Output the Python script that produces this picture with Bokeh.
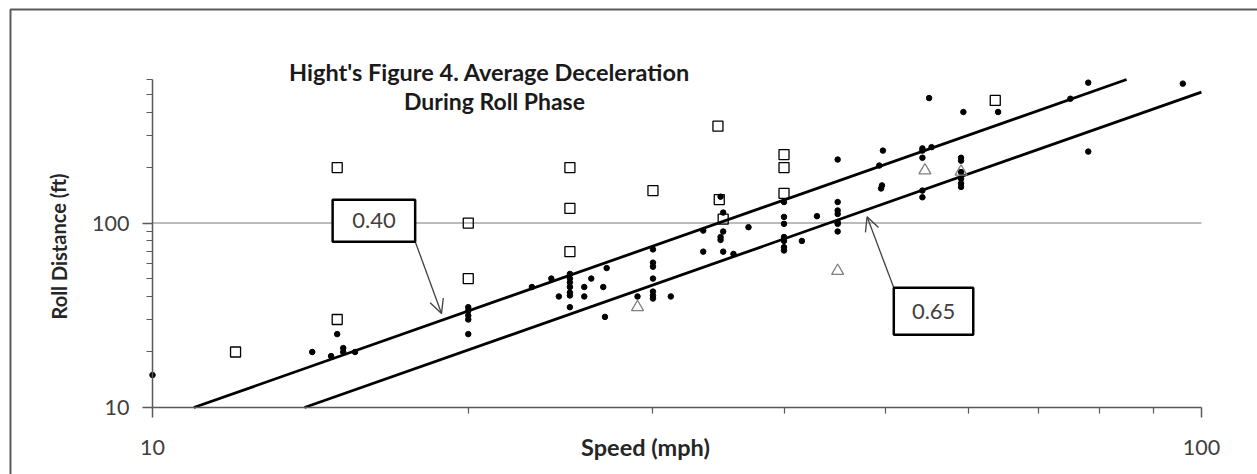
from bokeh.plotting import figure
from bokeh.models import FixedTicker, Label, BoxAnnotation, PolyAnnotation, Arrow, OpenHead, Range1d
from bokeh.embed import file_html
from bokeh.resources import INLINE

# ---- data ----
dot_speed = [10, 14.2, 14.8, 15, 15.2, 15.2, 15.6,
             20, 20, 20, 20, 20,
             23, 24, 24.4,
             25, 25, 25, 25, 25, 25, 25,
             25.8, 25.8, 26.2, 26.9, 27, 27.1, 29,
             30, 30, 30, 30, 30, 30, 30,
             31.2, 33.5, 33.5,
             34.8, 35, 35, 34.8, 34.8, 35, 35.8, 37,
             40, 40, 40, 40, 40, 40, 40,
             41.6, 43,
             45, 45, 45, 45, 45, 45, 45,
             49.3, 49.7, 49.6, 49.5,
             54.2, 54.2, 54.2, 54.2, 54.2, 55.3, 55,
             59, 59, 59, 59, 59, 59,
             59.3, 64, 75, 78, 78, 96]
dot_dist = [15, 20, 19, 25, 21, 20, 20,
            35, 33.5, 31.5, 30, 25,
            45, 50, 40,
            53, 50, 47.6, 45, 42, 40.5, 35,
            45, 40, 50, 45, 31, 57, 40,
            72, 61, 58, 50, 42.5, 40.5, 39,
            40, 91, 70,
            139, 114, 90, 84, 81, 70, 68, 95,
            130, 108, 99, 84, 80, 74, 71,
            80, 109,
            221, 130, 117, 112, 101, 99, 90,
            205, 247, 160, 154,
            254, 247, 226, 150, 138, 258, 476,
            226, 218, 189, 174, 164, 157,
            400, 400, 472, 577, 244, 570]

sq_speed = [12, 15, 15, 20, 20, 25, 25, 25, 30, 34.6, 34.7, 35, 40, 40, 40, 63.6]
sq_dist = [20, 200, 30, 100, 50, 200, 120, 70, 150, 335, 134, 105, 235, 200, 145, 462]

tri_speed = [29, 45, 54.5, 59]
tri_dist = [35, 55, 193, 190]

line40_speed = [10.95, 84.85]
line40_dist = [10, 600]
line65_speed = [13.96, 100]
line65_dist = [10, 513]

x_bounds = [10, 100]
y_bounds = [10, 600]
x_major = [10, 100]
x_minor = [20, 30, 40, 50, 60, 70, 80, 90]
y_major = [10, 100]
y_minor = [20, 30, 40, 50, 60, 70, 80, 90, 200, 300, 400, 500, 600]
grid_y = [100]
tick_labels = {10: "10", 100: "100"}

title_lines = ["Hight's Figure 4. Average Deceleration", "During Roll Phase"]
x_title = "Speed (mph)"
y_title = "Roll Distance (ft)"
callouts = ["0.40", "0.65"]

FONT = "Lato"
AXIS_COL = "#595959"
TXT_COL = "#404040"
W, H = 1257, 474

# the frame covers the whole canvas; the ranges are chosen so that the
# 10..100 / 10..600 plot box sits at the reference's position
p = figure(width=W, height=H, x_axis_type="log", y_axis_type="log",
           x_range=Range1d(7.163, 113.1), y_range=Range1d(4.334, 1609),
           output_backend="svg", toolbar_location=None,
           min_border=0)
p.outline_line_color = None
p.background_fill_color = "white"
p.border_fill_color = "white"

p.xaxis.fixed_location = y_bounds[0]
p.yaxis.fixed_location = x_bounds[0]
p.xaxis.bounds = tuple(x_bounds)
p.yaxis.bounds = tuple(y_bounds)

for ax, maj, mnr in ((p.xaxis[0], x_major, x_minor), (p.yaxis[0], y_major, y_minor)):
    ax.ticker = FixedTicker(ticks=maj, minor_ticks=mnr)
    ax.major_label_overrides = tick_labels
    ax.axis_line_color = AXIS_COL
    ax.axis_line_width = 1.5
    ax.major_tick_line_color = AXIS_COL
    ax.minor_tick_line_color = AXIS_COL
    ax.major_tick_line_width = 1.5
    ax.minor_tick_line_width = 1.2
    ax.major_tick_out = 10
    ax.major_tick_in = 0
    ax.minor_tick_out = 6
    ax.minor_tick_in = 0
    ax.major_label_text_font = FONT
    ax.major_label_text_font_size = "21.5px"
    ax.major_label_text_color = TXT_COL
p.xaxis.major_label_standoff = 22
p.yaxis.major_label_standoff = 13

p.xgrid.visible = False
p.ygrid.visible = False
# horizontal major gridline at 100 across the plot box
for gy in grid_y:
    p.line(x_bounds, [gy, gy], line_color="#a6a6a6", line_width=1.5)

p.line(line40_speed, line40_dist, line_color="black", line_width=2.8)
p.line(line65_speed, line65_dist, line_color="black", line_width=2.8)
p.scatter(dot_speed, dot_dist, marker="circle", size=5.5, color="black")
p.scatter(sq_speed, sq_dist, marker="square", size=10, line_color="black",
          line_width=1.3, fill_alpha=0)
p.scatter(tri_speed, tri_dist, marker="triangle", size=12, line_color="#7f7f7f",
          line_width=1.3, fill_alpha=0)

# callout boxes and arrows
p.add_layout(Arrow(end=OpenHead(size=14, line_color=TXT_COL, line_width=1.3),
                   x_start=17.8, y_start=79.5, x_end=18.86, y_end=32.3,
                   line_color=TXT_COL, line_width=1.3))
p.add_layout(Arrow(end=OpenHead(size=14, line_color=TXT_COL, line_width=1.3),
                   x_start=50.9, y_start=44.6, x_end=48.0, y_end=108.1,
                   line_color=TXT_COL, line_width=1.3))
p.add_layout(BoxAnnotation(left=14.85, right=17.8, top=133.8, bottom=79.1,
                           fill_color="white", fill_alpha=1, line_color="black",
                           line_alpha=1, line_width=2.5))
p.add_layout(BoxAnnotation(left=50.9, right=60.6, top=44.6, bottom=24.8,
                           fill_color="white", fill_alpha=1, line_color="black",
                           line_alpha=1, line_width=2.5))
p.add_layout(Label(x=16.26, y=103.2, text=callouts[0], text_align="center", text_baseline="middle",
                   text_font=FONT, text_font_size="22px", text_color=TXT_COL))
p.add_layout(Label(x=55.55, y=33.3, text=callouts[1], text_align="center", text_baseline="middle",
                   text_font=FONT, text_font_size="22px", text_color=TXT_COL))

# titles (screen units; frame == canvas, y measured from bottom)
p.add_layout(Label(x=489, y=H - 71, x_units="screen", y_units="screen", text=title_lines[0],
                   text_align="center", text_baseline="middle", text_font=FONT,
                   text_font_style="bold", text_font_size="23.5px", text_color="#1a1a1a"))
p.add_layout(Label(x=494, y=H - 100, x_units="screen", y_units="screen", text=title_lines[1],
                   text_align="center", text_baseline="middle", text_font=FONT,
                   text_font_style="bold", text_font_size="23px", text_color="#1a1a1a"))
p.add_layout(Label(x=645, y=H - 446, x_units="screen", y_units="screen", text=x_title,
                   text_align="center", text_baseline="middle", text_font=FONT,
                   text_font_style="bold", text_font_size="23.5px", text_color="#262626"))
p.add_layout(Label(x=58, y=H - 246, x_units="screen", y_units="screen", text=y_title, angle=1.5708,
                   text_align="center", text_baseline="middle", text_font=FONT,
                   text_font_style="bold", text_font_size="20px", text_color="#262626"))

# outer chart border: only the left and top edges show in the reference.
# Kept inside the canvas; the outline retraces itself so no other edge is drawn.
p.add_layout(PolyAnnotation(xs=[10, 10, W, 10], ys=[0, H - 9, H - 9, H - 9],
                            xs_units="screen", ys_units="screen", fill_alpha=0,
                            line_color="#5a5a5a", line_alpha=1, line_width=2))

open("out.html", "w").write(file_html(p, INLINE))
